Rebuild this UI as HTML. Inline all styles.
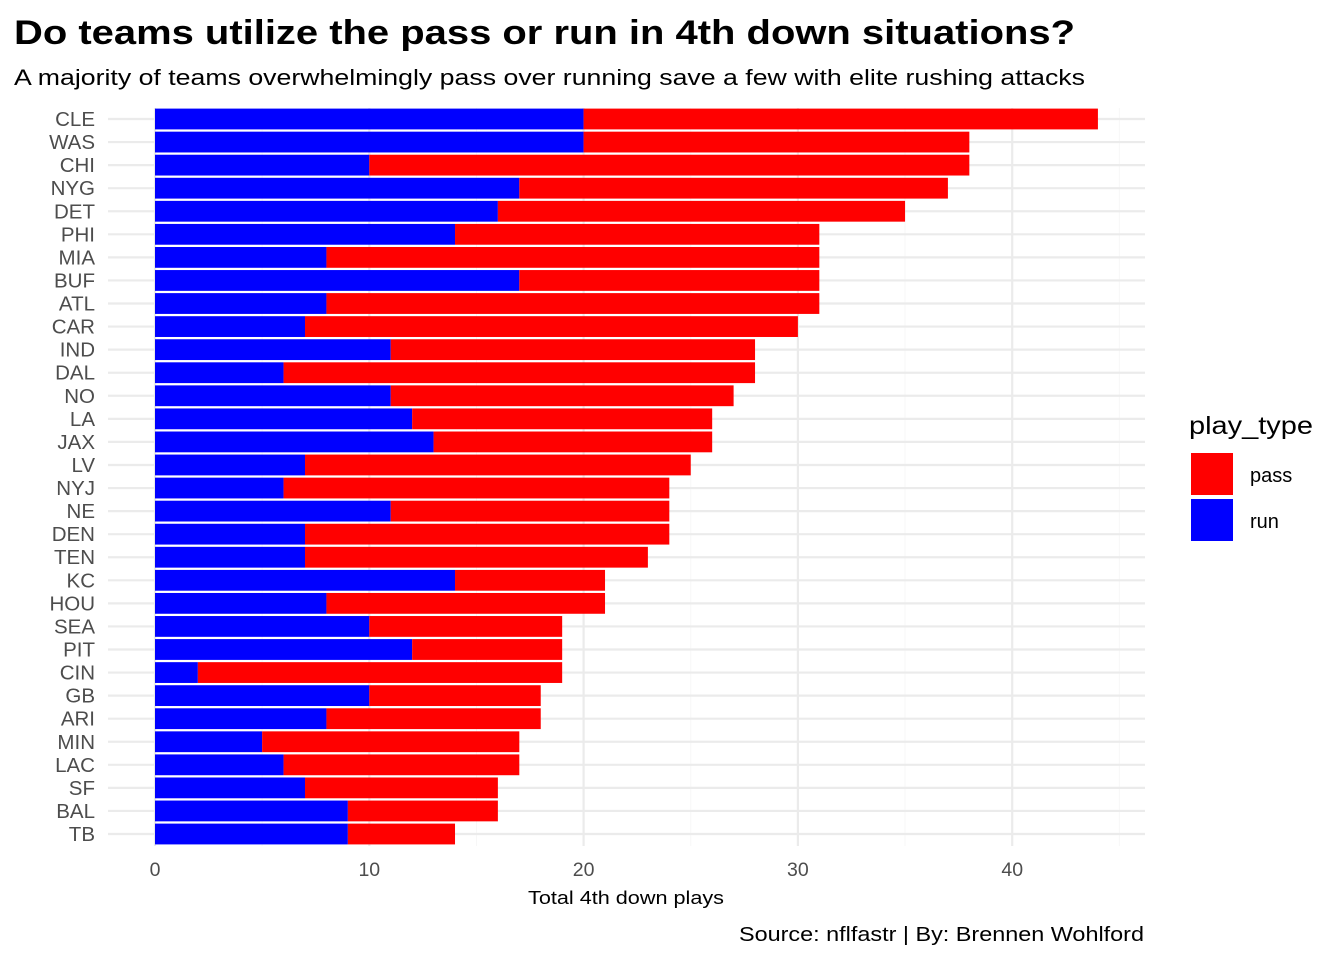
<!DOCTYPE html>
<html><head><meta charset="utf-8"><style>
body{margin:0;background:#fff;font-family:"Liberation Sans",Arial,sans-serif;}
</style></head><body>
<svg id="chart" width="1344" height="960" xmlns="http://www.w3.org/2000/svg" font-family="Liberation Sans, Arial, sans-serif">
<text x="14" y="44" font-size="34" font-weight="bold" fill="#000" textLength="1061" lengthAdjust="spacingAndGlyphs">Do teams utilize the pass or run in 4th down situations?</text>
<text x="14" y="85" font-size="22" fill="#000" textLength="1071" lengthAdjust="spacingAndGlyphs">A majority of teams overwhelmingly pass over running save a few with elite rushing attacks</text>
<g id="grid"></g><g id="bars"></g><g id="ylabels"></g><g id="xlabels"></g>
<text x="528" y="904" font-size="18" fill="#000" textLength="196" lengthAdjust="spacingAndGlyphs">Total 4th down plays</text>
<text x="739" y="941" font-size="20" fill="#000" textLength="405" lengthAdjust="spacingAndGlyphs">Source: nflfastr | By: Brennen Wohlford</text>
<g>
<text x="1189" y="434" font-size="25" fill="#000" textLength="124" lengthAdjust="spacingAndGlyphs">play_type</text>
<rect x="1191" y="453" width="42" height="42" fill="#ff0000"/>
<text x="1250" y="482" font-size="20" fill="#000">pass</text>
<rect x="1191" y="499" width="42" height="42" fill="#0000ff"/>
<text x="1250" y="528" font-size="20" fill="#000">run</text>
</g>
</svg>
<script>
const teams=["CLE","WAS","CHI","NYG","DET","PHI","MIA","BUF","ATL","CAR","IND","DAL","NO","LA","JAX","LV","NYJ","NE","DEN","TEN","KC","HOU","SEA","PIT","CIN","GB","ARI","MIN","LAC","SF","BAL","TB"];
const runPlays=[20,20,10,17,16,14,8,17,8,7,11,6,11,12,13,7,6,11,7,7,14,8,10,12,2,10,8,5,6,7,9,9];
const passPlays=[24,18,28,20,19,17,23,14,23,23,17,22,16,14,13,18,18,13,17,16,7,13,9,7,17,8,10,12,11,9,7,5];
const xTicks=[0,10,20,30,40];
const NS="http://www.w3.org/2000/svg";
const x0=155,pxPer=21.43,yTop=119,step=23.065,bh=20.8;
const xs=v=>x0+v*pxPer, ys=i=>yTop+i*step;
function mk(tag,attrs,parent){const e=document.createElementNS(NS,tag);for(const k in attrs)e.setAttribute(k,attrs[k]);parent.appendChild(e);return e;}
const grid=document.getElementById('grid'),bars=document.getElementById('bars'),yl=document.getElementById('ylabels'),xl=document.getElementById('xlabels');
for(let v=5;v<=45;v+=10){const l=mk('line',{x1:xs(v),x2:xs(v),y1:108,y2:846,stroke:'#f7f7f7','stroke-width':1},grid);

}
xTicks.forEach(v=>{const l=mk('line',{x1:xs(v),x2:xs(v),y1:108,y2:846,stroke:'#ebebeb','stroke-width':2.2},grid);


const t=mk('text',{x:xs(v),y:876,'font-size':19.5,'text-anchor':'middle',fill:'#4d4d4d'},xl);t.textContent=v;

});
teams.forEach((tm,i)=>{const y=ys(i);
const g=mk('line',{x1:108,x2:1145,y1:y,y2:y,stroke:'#ebebeb','stroke-width':2.2},grid);


const r=runPlays[i],p=passPlays[i];
const br=mk('rect',{x:xs(0),y:y-bh/2,width:xs(r)-xs(0),height:bh,fill:'#0000ff'},bars);


const bp=mk('rect',{x:xs(r),y:y-bh/2,width:xs(r+p)-xs(r),height:bh,fill:'#ff0000'},bars);


const t=mk('text',{x:95,y:y+7,'font-size':20.5,'text-anchor':'end',fill:'#4d4d4d'},yl);t.textContent=tm;

});
</script>
</body></html>
